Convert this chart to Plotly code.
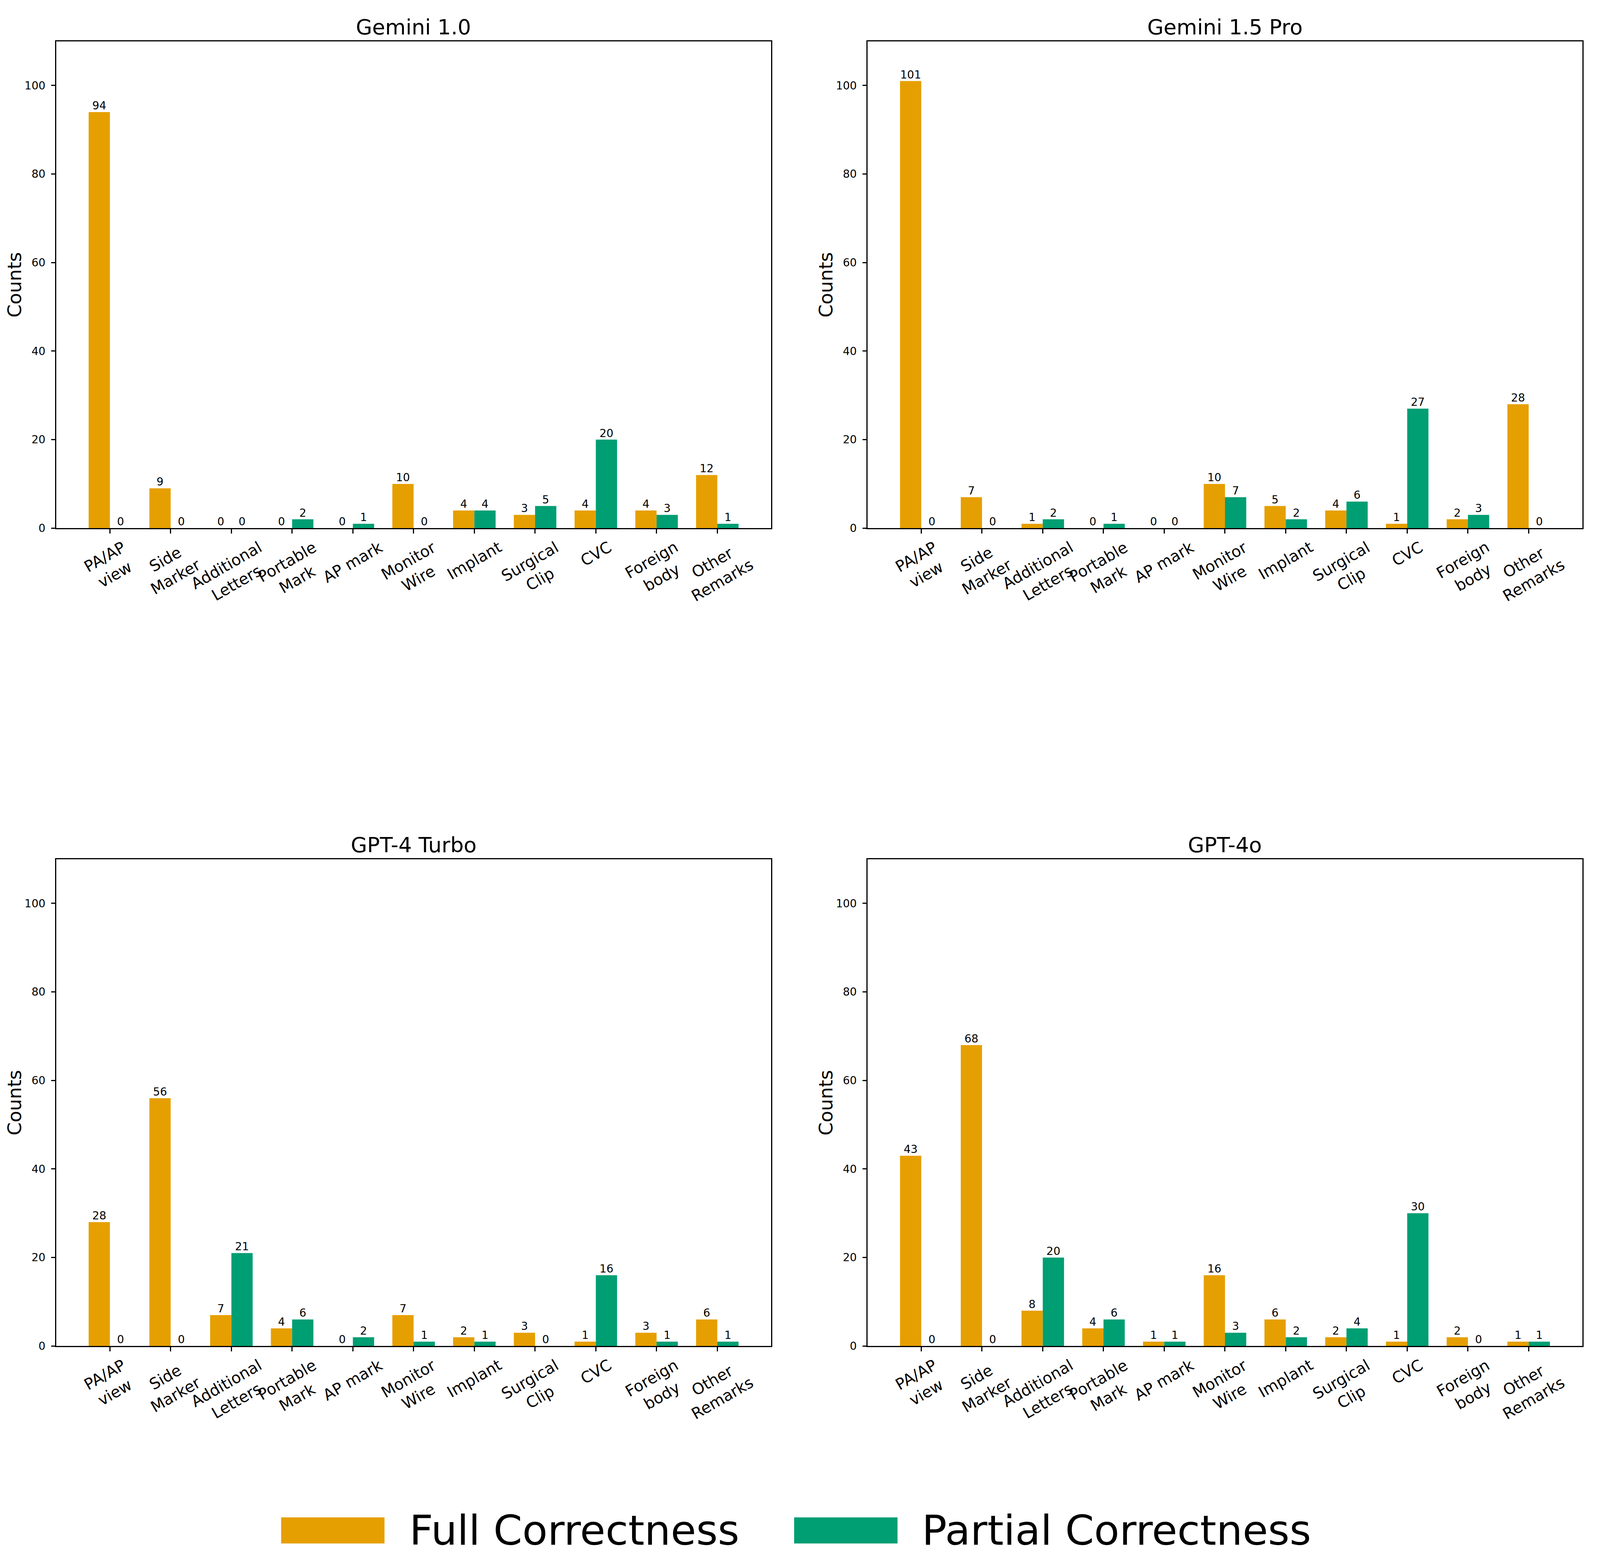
import plotly.graph_objects as go

# ---- data ----
categories = ['PA/AP\nview', 'Side\nMarker', 'Additional\nLetters', 'Portable\nMark', 'AP mark',
              'Monitor\nWire', 'Implant', 'Surgical\nClip', 'CVC', 'Foreign\nbody', 'Other\nRemarks']
models = ['Gemini 1.0', 'Gemini 1.5 Pro', 'GPT-4 Turbo', 'GPT-4o']
series_names = ['Full Correctness', 'Partial Correctness']

gemini10_full = [94, 9, 0, 0, 0, 10, 4, 3, 4, 4, 12]
gemini10_partial = [0, 0, 0, 2, 1, 0, 4, 5, 20, 3, 1]
gemini15_full = [101, 7, 1, 0, 0, 10, 5, 4, 1, 2, 28]
gemini15_partial = [0, 0, 2, 1, 0, 7, 2, 6, 27, 3, 0]
gpt4turbo_full = [28, 56, 7, 4, 0, 7, 2, 3, 1, 3, 6]
gpt4turbo_partial = [0, 0, 21, 6, 2, 1, 1, 0, 16, 1, 1]
gpt4o_full = [43, 68, 8, 4, 1, 16, 6, 2, 1, 2, 1]
gpt4o_partial = [0, 0, 20, 6, 1, 3, 2, 4, 30, 0, 1]

y_ticks = [0, 20, 40, 60, 80, 100]

full_list = [gemini10_full, gemini15_full, gpt4turbo_full, gpt4o_full]
partial_list = [gemini10_partial, gemini15_partial, gpt4turbo_partial, gpt4o_partial]

# ---- style ----
# the browser viewport is 4096 css px wide, layout is measured on a 4644 px wide image
W, H = 4096, 4012
REF_W = 4644.0
FONT = 'DejaVu Sans'
C_FULL = '#E69F00'
C_PART = '#009E73'
BAR_W = 0.35
LW = 2.7

# panel boxes in reference pixels (left, right, top, bottom)
boxes = [(163, 2238, 106, 1358), (2518, 4593, 106, 1358),
         (163, 2238, 2209, 3461), (2518, 4593, 2209, 3461)]

fig = go.Figure()
idx = list(range(len(categories)))
annotations = []
shapes = []

for k in range(4):
    n = '' if k == 0 else str(k + 1)
    xa, ya = 'x' + n, 'y' + n
    l, r, t, b = boxes[k]
    full = full_list[k]
    part = partial_list[k]
    x_full = [i - BAR_W / 2 for i in idx]
    x_part = [i + BAR_W / 2 for i in idx]

    fig.add_trace(go.Bar(x=x_full, y=full, width=BAR_W, marker=dict(color=C_FULL, line=dict(width=0)),
                         name=series_names[0], showlegend=False, xaxis=xa, yaxis=ya))
    fig.add_trace(go.Bar(x=x_part, y=part, width=BAR_W, marker=dict(color=C_PART, line=dict(width=0)),
                         name=series_names[1], showlegend=False, xaxis=xa, yaxis=ya))
    # value labels on top of bars
    for xs, vals in ((x_full, full), (x_part, part)):
        fig.add_trace(go.Scatter(x=xs, y=vals, text=[str(v) for v in vals], mode='text',
                                 textposition='top center', textfont=dict(family=FONT, size=28, color='black'),
                                 marker=dict(size=4), showlegend=False, hoverinfo='skip',
                                 cliponaxis=False, xaxis=xa, yaxis=ya))

    xdom = [l / REF_W, r / REF_W]
    ydom = [1 - b / H, 1 - t / H]
    fig.update_layout(**{
        'xaxis' + n: dict(domain=xdom, anchor=ya, range=[-0.885, 10.885], tickvals=idx,
                          showticklabels=False, ticks='outside', ticklen=11, tickwidth=LW, tickcolor='black',
                          showline=True, linecolor='black', linewidth=LW, mirror=True,
                          showgrid=False, zeroline=False),
        'yaxis' + n: dict(domain=ydom, anchor=xa, range=[0, 110], tickvals=y_ticks,
                          ticks='outside', ticklen=10, tickwidth=LW, tickcolor='black',
                          ticklabelstandoff=9,
                          tickfont=dict(family=FONT, size=28, color='black'),
                          showline=True, linecolor='black', linewidth=LW, mirror=True,
                          showgrid=False, zeroline=False),
    })

    # subplot title
    annotations.append(dict(text=models[k], xref='paper', yref='paper', x=(xdom[0] + xdom[1]) / 2, y=ydom[1],
                            xanchor='center', yanchor='bottom', yshift=3, showarrow=False,
                            font=dict(family=FONT, size=54, color='black')))
    # y axis title
    annotations.append(dict(text='Counts', xref='paper', yref='paper', x=(l - 121) / REF_W,
                            y=(ydom[0] + ydom[1]) / 2,
                            xanchor='center', yanchor='middle', textangle=-90, showarrow=False,
                            font=dict(family=FONT, size=48, color='black')))
    # rotated category labels
    for i, c in zip(idx, categories):
        annotations.append(dict(text=c.replace('\n', '<br>'), xref=xa, yref=ya + ' domain', x=i, y=0,
                                xanchor='center', yanchor='top', yshift=-22, textangle=-30, align='center',
                                showarrow=False, font=dict(family=FONT, size=40, color='black')))

# legend drawn at the bottom
leg_items = [(series_names[0], C_FULL, 816, 1186), (series_names[1], C_PART, 2305, 2674)]
for name, col, sx, tx in leg_items:
    shapes.append(dict(type='rect', xref='paper', yref='paper', x0=sx / REF_W, x1=(sx + 300) / REF_W,
                       y0=1 - 3968.5 / H, y1=1 - 3901.5 / H, fillcolor=col, line=dict(width=0)))
    annotations.append(dict(text=name, xref='paper', yref='paper', x=tx / REF_W, y=1 - 3935 / H,
                            xanchor='left', yanchor='middle', showarrow=False,
                            font=dict(family=FONT, size=106, color='black')))

fig.update_layout(width=W, height=H, margin=dict(l=0, r=0, t=0, b=0),
                  plot_bgcolor='white', paper_bgcolor='white',
                  barmode='overlay', showlegend=False,
                  annotations=annotations, shapes=shapes,
                  font=dict(family=FONT, color='black'))

fig.write_html("out.html", config={'displayModeBar': False},
               post_script="document.body.style.margin='0';")
